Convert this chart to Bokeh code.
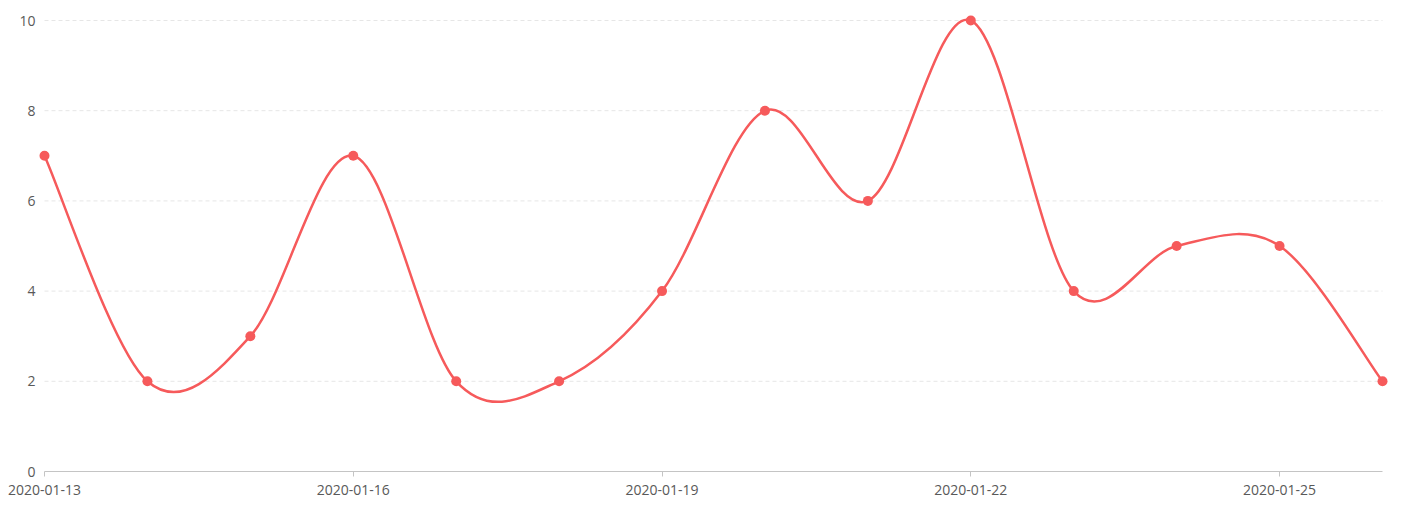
from bokeh.plotting import figure
from bokeh.models import Range1d, FixedTicker
from bokeh.embed import file_html
from bokeh.resources import INLINE

# ---- data ----
dates = ["2020-01-13", "2020-01-14", "2020-01-15", "2020-01-16", "2020-01-17",
         "2020-01-18", "2020-01-19", "2020-01-20", "2020-01-21", "2020-01-22",
         "2020-01-23", "2020-01-24", "2020-01-25", "2020-01-26"]
values = [7, 2, 3, 7, 2, 2, 4, 8, 6, 10, 4, 5, 5, 2]
y_ticks = [0, 2, 4, 6, 8, 10]
x_tick_idx = [0, 3, 6, 9, 12]

COLOR = "#F65A5B"
FONT = "Open Sans"
LABEL = "#595959"

n = len(values)
xs = list(range(n))

# Catmull-Rom -> cubic bezier control points
x0, y0, x1, y1, cx0, cy0, cx1, cy1 = [], [], [], [], [], [], [], []
for i in range(n - 1):
    pxm, pym = (xs[i - 1], values[i - 1]) if i > 0 else (xs[i], values[i])
    px0, py0 = xs[i], values[i]
    px1, py1 = xs[i + 1], values[i + 1]
    pxp, pyp = (xs[i + 2], values[i + 2]) if i + 2 < n else (xs[i + 1], values[i + 1])
    x0.append(px0); y0.append(py0); x1.append(px1); y1.append(py1)
    cx0.append(px0 + (px1 - pxm) / 6.0); cy0.append(py0 + (py1 - pym) / 6.0)
    cx1.append(px1 - (pxp - px0) / 6.0); cy1.append(py1 - (pyp - py0) / 6.0)

px_per_x = 1338.0 / (n - 1)
px_per_y = 451.0 / 10.0
xpad = 7.0 / px_per_x
ypad = 8.0 / px_per_y

p = figure(width=1401, height=507, output_backend="svg", toolbar_location=None,
           x_range=Range1d(xs[0] - xpad, xs[-1] + xpad),
           y_range=Range1d(y_ticks[0], y_ticks[-1] + ypad),
           min_border_left=37, min_border_right=12, min_border_top=12, min_border_bottom=36)
p.outline_line_color = None
p.background_fill_color = "white"
p.border_fill_color = "white"
p.xgrid.visible = False
p.ygrid.visible = False

# dashed horizontal gridlines
gl = y_ticks[1:]
p.segment(x0=[xs[0]] * len(gl), x1=[xs[-1]] * len(gl), y0=gl, y1=gl,
          line_color="#e6e6e6", line_width=1, line_dash="4 3", level="underlay")

# smooth line
p.bezier(x0=x0, y0=y0, x1=x1, y1=y1, cx0=cx0, cy0=cy0, cx1=cx1, cy1=cy1,
         line_color=COLOR, line_width=2.5)
p.scatter(xs, values, size=10, fill_color=COLOR, line_color=None)

# x axis
xa = p.xaxis[0]
xa.ticker = FixedTicker(ticks=x_tick_idx, minor_ticks=[])
xa.major_label_overrides = {i: dates[i] for i in x_tick_idx}
xa.bounds = (xs[0], xs[-1])
xa.axis_line_color = "#c4c4c4"
xa.major_tick_line_color = "#c4c4c4"
xa.major_tick_out = 5
xa.major_tick_in = 0
xa.minor_tick_line_color = None
xa.major_label_standoff = 8
xa.major_label_text_font = FONT
xa.major_label_text_font_size = "14px"
xa.major_label_text_color = LABEL

# y axis
ya = p.yaxis[0]
ya.ticker = FixedTicker(ticks=y_ticks, minor_ticks=[])
ya.axis_line_color = None
ya.major_tick_line_color = None
ya.minor_tick_line_color = None
ya.major_tick_out = 0
ya.major_tick_in = 0
ya.major_label_standoff = 2
ya.major_label_text_font = FONT
ya.major_label_text_font_size = "14px"
ya.major_label_text_color = LABEL

open("out.html", "w").write(file_html(p, INLINE))
